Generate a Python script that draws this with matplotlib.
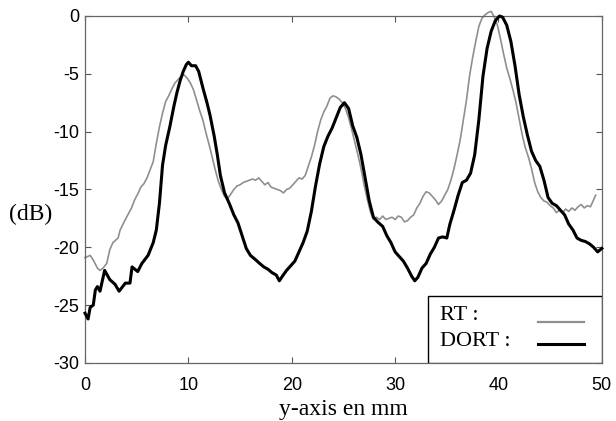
import numpy as np
import matplotlib
matplotlib.use("Agg")
import matplotlib.pyplot as plt
from matplotlib.patches import Rectangle
from matplotlib.lines import Line2D

plt.rcParams['axes.unicode_minus'] = False

# DORT (black) trace
dort_x = [0, 0.3, 0.5, 0.8, 1.0, 1.2, 1.45, 1.9, 2.4, 2.9, 3.3, 3.9, 4.35, 4.55, 5.1,
          5.5, 6.1, 6.6, 6.9, 7.2, 7.5, 7.8, 8.2, 8.6, 8.9, 9.2, 9.5, 9.8,
          10.0, 10.3, 10.7, 11.0, 11.4, 11.8, 12.1, 12.5, 12.8, 13.1, 13.5, 14.0, 14.4,
          14.8, 15.2, 15.6, 16.0, 16.4, 16.9, 17.3, 17.7, 18.1, 18.5, 18.8, 19.1, 19.5,
          19.9, 20.3, 20.7, 21.1, 21.5, 21.9, 22.3, 22.7, 23.1, 23.5, 23.9, 24.3, 24.7,
          25.1, 25.5, 25.9, 26.3, 26.7, 27.1, 27.5, 27.9, 28.3, 28.8, 29.2, 29.6, 30.0,
          30.4, 30.8, 31.2, 31.6, 31.9, 32.2, 32.6, 33.0, 33.4, 33.8, 34.2, 34.6, 35.0,
          35.3, 35.7, 36.1, 36.5, 36.9, 37.3, 37.7, 38.1, 38.5, 38.9, 39.3, 39.7, 40.1,
          40.4, 40.8, 41.2, 41.6, 42.0, 42.4, 42.8, 43.2, 43.6, 44.0, 44.4, 44.8, 45.2,
          45.6, 46.0, 46.4, 46.8, 47.2, 47.6, 48.0, 48.4, 48.8, 49.2, 49.6, 50.0]
dort_y = [-25.7, -26.2, -25.2, -25.0, -23.7, -23.4, -23.8, -22.0, -22.8, -23.2, -23.8,
          -23.1, -23.1, -21.7, -22.1, -21.4, -20.7, -19.6, -18.5, -16.2, -12.9, -11.2,
          -9.6, -7.8, -6.6, -5.6, -4.8, -4.2, -4.0, -4.3,
          -4.3, -4.8, -6.2, -7.5, -8.6, -10.4, -12.0, -13.8, -15.3, -16.3, -17.2, -17.9,
          -19.0, -20.1, -20.7, -21.0, -21.4, -21.7, -21.9, -22.2, -22.4, -22.9, -22.5,
          -22.0, -21.6, -21.2, -20.4, -19.6, -18.6, -16.9, -14.7, -12.8, -11.3, -10.4,
          -9.7, -8.8, -7.9, -7.5, -8.0, -9.5, -10.5, -12.0, -14.0, -16.0, -17.4, -17.8,
          -18.2, -19.0, -19.6, -20.4, -20.8, -21.2, -21.8, -22.5, -22.9, -22.6, -21.8,
          -21.4, -20.6, -20.0, -19.2, -19.1, -19.2, -18.0, -16.8, -15.5, -14.4, -14.2,
          -13.6, -12.0, -9.0, -5.2, -2.8, -1.3, -0.4, 0.0, -0.1, -0.8, -2.2, -4.3, -6.8,
          -8.7, -10.3, -11.7, -12.5, -13.0, -14.2, -15.7, -16.2, -16.4, -16.8, -17.2,
          -18.0, -18.5, -19.2, -19.4, -19.5, -19.7, -20.0, -20.4, -20.1]

# RT (grey) trace
rt_x = [0, 0.5, 0.8, 1.2, 1.45, 1.75, 2.1, 2.4, 2.7, 3.2, 3.4, 3.9, 4.2, 4.5,
        4.8, 5.1, 5.4, 5.7, 6.0, 6.3, 6.6, 6.9, 7.2, 7.5, 7.8, 8.1, 8.4, 8.7, 9.0, 9.3,
        9.6, 9.9, 10.2, 10.5, 10.8, 11.1, 11.4, 11.7, 12.0, 12.3, 12.6, 12.9, 13.2,
        13.5, 13.8, 14.1, 14.4, 14.7, 15.0, 15.3, 15.6, 15.9, 16.2, 16.5, 16.8, 17.1,
        17.4, 17.7, 18.0, 18.3, 18.6, 18.9, 19.2, 19.5, 19.8, 20.1, 20.4, 20.7, 21.0,
        21.3, 21.6, 21.9, 22.2, 22.5, 22.8, 23.1, 23.4, 23.7, 24.0, 24.3, 24.6, 24.9,
        25.2, 25.5, 25.8, 26.1, 26.4, 26.7, 27.0, 27.3, 27.6, 27.9, 28.2, 28.5, 28.8,
        29.1, 29.4, 29.7, 30.0, 30.3, 30.6, 30.9, 31.2, 31.5, 31.8, 32.1, 32.4, 32.7,
        33.0, 33.3, 33.6, 33.9, 34.2, 34.5, 34.8, 35.1, 35.4, 35.7, 36.0, 36.3, 36.6,
        36.9, 37.2, 37.5, 37.8, 38.1, 38.4, 38.7, 39.0, 39.3, 39.6, 39.9, 40.2, 40.5,
        40.8, 41.1, 41.4, 41.7, 42.0, 42.3, 42.6, 42.9, 43.2, 43.5, 43.8, 44.1, 44.4,
        44.7, 45.0, 45.3, 45.6, 45.9, 46.2, 46.5, 46.8, 47.1, 47.4, 47.7, 48.0, 48.3,
        48.6, 48.9, 49.2, 49.4]
rt_y = [-20.9, -20.7, -21.1, -21.8, -22.0, -21.8, -21.4, -20.2, -19.6, -19.2,
        -18.5, -17.6, -17.1, -16.6, -15.9, -15.4, -14.8, -14.5, -14.0, -13.3,
        -12.6, -11.0, -9.6, -8.4, -7.4, -6.9, -6.3, -5.8, -5.5, -5.2, -5.1, -5.4, -5.8,
        -6.4, -7.3, -8.2, -9.0, -10.1, -11.1, -12.2, -13.3, -14.3, -15.0, -15.6, -15.8,
        -15.4, -15.0, -14.7, -14.6, -14.4, -14.3, -14.2, -14.1, -14.2, -14.0, -14.3,
        -14.6, -14.4, -14.8, -14.9, -15.0, -15.1, -15.3, -15.0, -14.9, -14.6, -14.3,
        -14.0, -14.1, -13.8, -13.0, -12.2, -11.2, -10.0, -9.0, -8.3, -7.8, -7.1, -6.9,
        -7.0, -7.2, -7.5, -8.0, -8.8, -9.8, -10.9, -12.0, -13.2, -14.6, -15.8, -16.9,
        -17.6, -17.4, -17.6, -17.3, -17.6, -17.5, -17.4, -17.6, -17.3, -17.4, -17.8,
        -17.7, -17.4, -17.2, -16.6, -16.2, -15.6, -15.2, -15.3, -15.6, -15.9, -16.3,
        -16.0, -15.5, -15.0, -14.2, -13.2, -12.0, -10.7, -9.0, -7.3, -5.2, -3.6, -2.2,
        -0.9, -0.2, 0.1, 0.3, 0.4, -0.1, -0.8, -2.0, -3.3, -4.5, -5.4, -6.4, -7.5, -8.9,
        -10.3, -11.4, -12.2, -13.2, -14.4, -15.2, -15.7, -16.0, -16.1, -16.4, -16.6,
        -17.0, -16.8, -17.0, -16.7, -16.9, -16.6, -16.8, -16.5, -16.3, -16.6, -16.4,
        -16.5, -15.9, -15.5]

x_ticks = [0, 10, 20, 30, 40, 50]
y_ticks = [-30, -25, -20, -15, -10, -5, 0]
legend_labels = ["RT :", "DORT :"]

fig = plt.figure(figsize=(6.16, 4.21), dpi=100)
ax = fig.add_axes([0.138, 0.138, 0.839, 0.824])

rt_color = '#8f8f8f'
ax.plot(rt_x, rt_y, color=rt_color, lw=1.2, clip_on=False, zorder=2)
ax.plot(dort_x, dort_y, color='black', lw=2.2, clip_on=False, zorder=3)

ax.set_xlim(0, 50)
ax.set_ylim(-30, 0)
ax.set_xticks(x_ticks)
ax.set_yticks(y_ticks)
ax.tick_params(direction='in', top=True, right=True, length=4, width=0.8,
               color='#555555', labelsize=13)
ax.tick_params(axis='x', pad=10)
ax.tick_params(axis='y', pad=4)
for lab in ax.get_xticklabels() + ax.get_yticklabels():
    lab.set_family('Liberation Sans')
for sp in ax.spines.values():
    sp.set_color('#666666')
    sp.set_linewidth(0.9)

ax.set_xlabel("y-axis en mm", family='Liberation Serif', fontsize=17, labelpad=4)
fig.text(0.015, 0.49, "(dB)", family='Liberation Serif', fontsize=17,
         ha='left', va='center')

# hand-drawn legend box in the lower right corner
box = Rectangle((0.663, 0.0), 0.337, 0.193, transform=ax.transAxes,
                facecolor='white', edgecolor='black', lw=1.0, zorder=5)
ax.add_patch(box)
ax.text(0.687, 0.138, legend_labels[0], transform=ax.transAxes, family='Liberation Serif',
        fontsize=16, va='center', ha='left', zorder=6)
ax.text(0.687, 0.062, legend_labels[1], transform=ax.transAxes, family='Liberation Serif',
        fontsize=16, va='center', ha='left', zorder=6)
ax.add_line(Line2D([0.876, 0.965], [0.118, 0.118], transform=ax.transAxes,
                   color=rt_color, lw=1.6, zorder=6))
ax.add_line(Line2D([0.876, 0.965], [0.055, 0.055], transform=ax.transAxes,
                   color='black', lw=2.2, zorder=6))

fig.savefig("out.png", dpi=100)
